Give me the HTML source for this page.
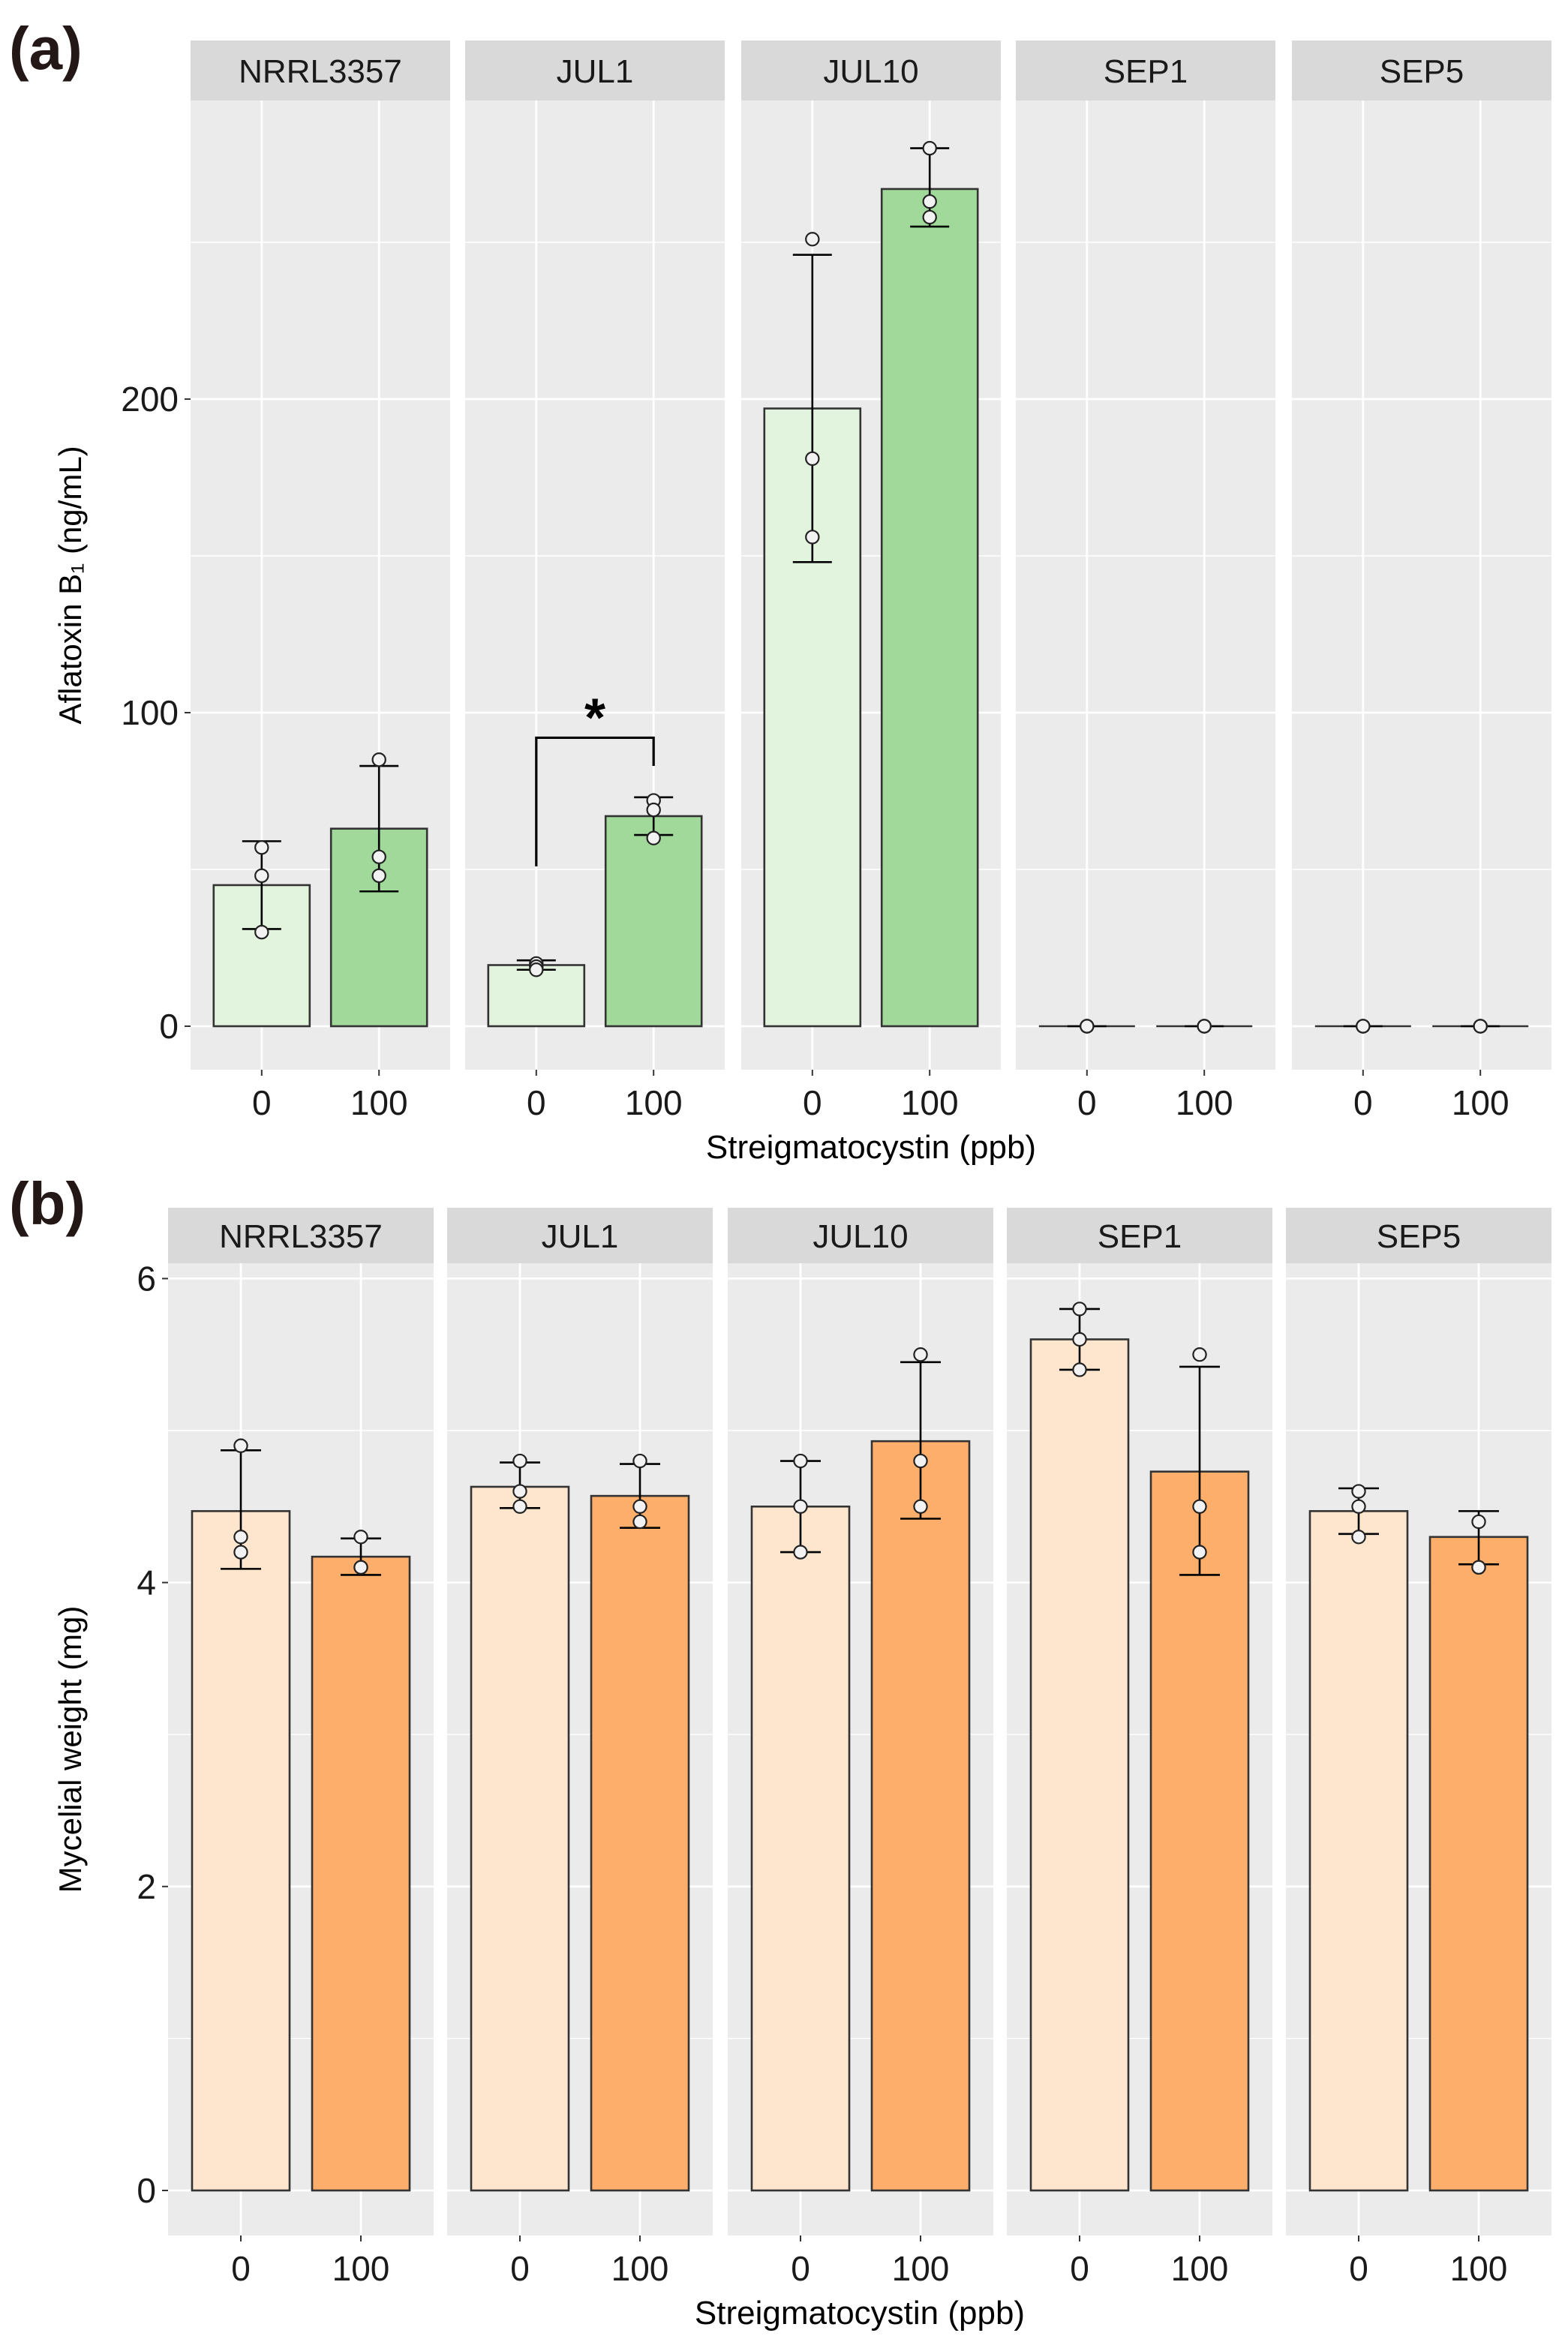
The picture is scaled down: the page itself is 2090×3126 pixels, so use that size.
<!DOCTYPE html>
<html><head><meta charset="utf-8">
<style>html,body{margin:0;padding:0;background:#fff}svg{display:block}</style>
</head><body>
<svg id="chart" width="2090" height="3126" viewBox="0 0 1045 1563" xmlns="http://www.w3.org/2000/svg" font-family="Liberation Sans, sans-serif">
</svg>
<script>
const strains = ["NRRL3357","JUL1","JUL10","SEP1","SEP5"];
const doses = ["0","100"];
// Panel a: aflatoxin B1 (ng/mL)
const aflaMean = [[45,63],[19.5,67],[197,267],[0,0],[0,0]];
const aflaHi = [[59,83],[21,73],[246,280],[0,0],[0,0]];
const aflaLo = [[31,43],[18,61],[148,255],[0,0],[0,0]];
const aflaPts = [[[57,48,30],[85,54,48]],[[20,19,18],[72,69,60]],[[251,181,156],[280,263,258]],[[0,0,0],[0,0,0]],[[0,0,0],[0,0,0]]];
const aflaTicks = [0,100,200];
const aflaMinor = [50,150,250];
// Panel b: mycelial weight (mg)
const myMean = [[4.47,4.17],[4.63,4.57],[4.5,4.93],[5.6,4.73],[4.47,4.3]];
const myHi = [[4.87,4.29],[4.79,4.78],[4.8,5.45],[5.8,5.42],[4.62,4.47]];
const myLo = [[4.09,4.05],[4.49,4.36],[4.2,4.42],[5.4,4.05],[4.32,4.12]];
const myPts = [[[4.9,4.3,4.2],[4.3,4.1,4.1]],[[4.8,4.6,4.5],[4.8,4.5,4.4]],[[4.8,4.5,4.2],[5.5,4.8,4.5]],[[5.8,5.6,5.4],[5.5,4.5,4.2]],[[4.6,4.5,4.3],[4.4,4.1,4.1]]];
const myTicks = [0,2,4,6];
const myMinor = [1,3,5];

const svg = document.getElementById('chart');
const NS = "http://www.w3.org/2000/svg";
function mk(tag, attrs, parent, text){
  const e = document.createElementNS(NS, tag);
  for (const k in attrs) e.setAttribute(k, attrs[k]);
  if (text !== undefined) e.textContent = text;
  (parent||svg).appendChild(e);
  return e;
}

function panel(cfg){
  const g = mk('g', {});
  
  
  const yScale = v => cfg.y0px - (v - 0) * cfg.pxPerUnit;
  strains.forEach((s, i) => {
    const x0 = cfg.facetX[i], w = cfg.facetW;
    const fg = mk('g', {}, g);
    
    
    const strip = mk('rect', {x:x0, y:cfg.stripTop, width:w, height:cfg.panelTop-cfg.stripTop, fill:'#d9d9d9'}, fg);
    
    
    const st = mk('text', {x:x0+w/2, y:(cfg.stripTop+cfg.panelTop)/2+8, 'text-anchor':'middle', 'font-size':22, fill:'#1a1a1a'}, fg, s);
    
    
    const bg = mk('rect', {x:x0, y:cfg.panelTop, width:w, height:cfg.panelBot-cfg.panelTop, fill:'#ebebeb'}, fg);
    
    
    cfg.minor.forEach(v => {
      const l = mk('line', {x1:x0, x2:x0+w, y1:yScale(v), y2:yScale(v), stroke:'#fff', 'stroke-width':0.7}, fg);
      
      
    });
    cfg.ticks.forEach(v => {
      const l = mk('line', {x1:x0, x2:x0+w, y1:yScale(v), y2:yScale(v), stroke:'#fff', 'stroke-width':1.4}, fg);
      
      
    });
    const cx = [x0 + w*0.274, x0 + w*0.726];
    cx.forEach(c => {
      const l = mk('line', {x1:c, x2:c, y1:cfg.panelTop, y2:cfg.panelBot, stroke:'#fff', 'stroke-width':1.4}, fg);
      
      
    });
    doses.forEach((d, j) => {
      const c = cx[j], bw = cfg.barW;
      const m = cfg.mean[i][j];
      const top = yScale(m), base = yScale(0);
      const h = Math.abs(base-top);
      if (h > 0.5) {
        const bar = mk('rect', {x:c-bw/2, y:Math.min(top,base), width:bw, height:h, fill:cfg.colors[j], stroke:'#333', 'stroke-width':1.3}, fg);
        
        
      } else {
        const bar = mk('line', {x1:c-bw/2, x2:c+bw/2, y1:base, y2:base, stroke:'#333', 'stroke-width':1.3}, fg);
        
        
      }
      const hi = yScale(cfg.hi[i][j]), lo = yScale(cfg.lo[i][j]), ww = cfg.whisk;
      const eb = mk('path', {d:`M${c},${hi}V${lo}M${c-ww/2},${hi}H${c+ww/2}M${c-ww/2},${lo}H${c+ww/2}`, stroke:'#000', 'stroke-width':1.3, fill:'none'}, fg);
      
      
      cfg.pts[i][j].forEach(p => {
        const pt = mk('circle', {cx:c, cy:yScale(p), r:4.3, fill:'#f2f2f2', stroke:'#222', 'stroke-width':1.1}, fg);
        
        
      });
      const tk = mk('line', {x1:c, x2:c, y1:cfg.panelBot, y2:cfg.panelBot+4, stroke:'#333', 'stroke-width':1}, fg);
      
      
      const tl = mk('text', {x:c, y:cfg.panelBot+30, 'text-anchor':'middle', 'font-size':23, fill:'#1a1a1a'}, fg, d);
      
      
    });
  });
  const x0 = cfg.facetX[0];
  cfg.ticks.forEach(v => {
    const tk = mk('line', {x1:x0-4, x2:x0, y1:yScale(v), y2:yScale(v), stroke:'#333', 'stroke-width':1}, g);
    
    
    const tl = mk('text', {x:x0-8, y:yScale(v)+8, 'text-anchor':'end', 'font-size':23, fill:'#1a1a1a'}, g, String(v));
    
    
  });
  const midY = (cfg.panelTop+cfg.panelBot)/2;
  const yt = mk('text', {x:0, y:0, transform:`translate(${cfg.yTitleX},${midY}) rotate(-90)`, 'text-anchor':'middle', 'font-size':21, fill:'#000'}, g, cfg.yTitle);
  
  
  const midX = (cfg.facetX[0] + cfg.facetX[4] + cfg.facetW)/2;
  const xt = mk('text', {x:midX, y:cfg.panelBot+59, 'text-anchor':'middle', 'font-size':22, fill:'#000'}, g, 'Streigmatocystin (ppb)');
  
  
  const pl = mk('text', {x:6, y:cfg.labelY, 'font-size':40, 'font-weight':'bold', fill:'#231815'}, g, cfg.label);
  
  
  return yScale;
}

const ysA = panel({name:'panel-a-aflatoxin', facetX:[127,310,494,677,861], facetW:173, stripTop:27, panelTop:67, panelBot:713,
  y0px:684, pxPerUnit:2.09, ticks:aflaTicks, minor:aflaMinor, mean:aflaMean, hi:aflaHi, lo:aflaLo, pts:aflaPts,
  colors:['#e3f4de','#a1d99b'], barW:64, whisk:26, yTitle:'Aflatoxin B\u2081 (ng/mL)', yTitleX:54, label:'(a)', labelY:46});

// significance bracket JUL1
const bx0 = 310 + 173*0.274, bx1 = 310 + 173*0.726;
const br = mk('path', {d:`M${bx0},${ysA(51)}V${ysA(92)}H${bx1}V${ysA(83)}`, stroke:'#000', 'stroke-width':1.6, fill:'none'});


const star = mk('text', {x:(bx0+bx1)/2, y:ysA(92)-1, 'text-anchor':'middle', 'font-size':36, 'font-weight':'bold'}, svg, '*');



panel({name:'panel-b-mycelial-weight', facetX:[112,298,485,671,857], facetW:177, stripTop:805, panelTop:842, panelBot:1490,
  y0px:1460, pxPerUnit:101.3, ticks:myTicks, minor:myMinor, mean:myMean, hi:myHi, lo:myLo, pts:myPts,
  colors:['#fee6ce','#fdae6b'], barW:65, whisk:27, yTitle:'Mycelial weight (mg)', yTitleX:54, label:'(b)', labelY:816});
</script>
</body></html>
